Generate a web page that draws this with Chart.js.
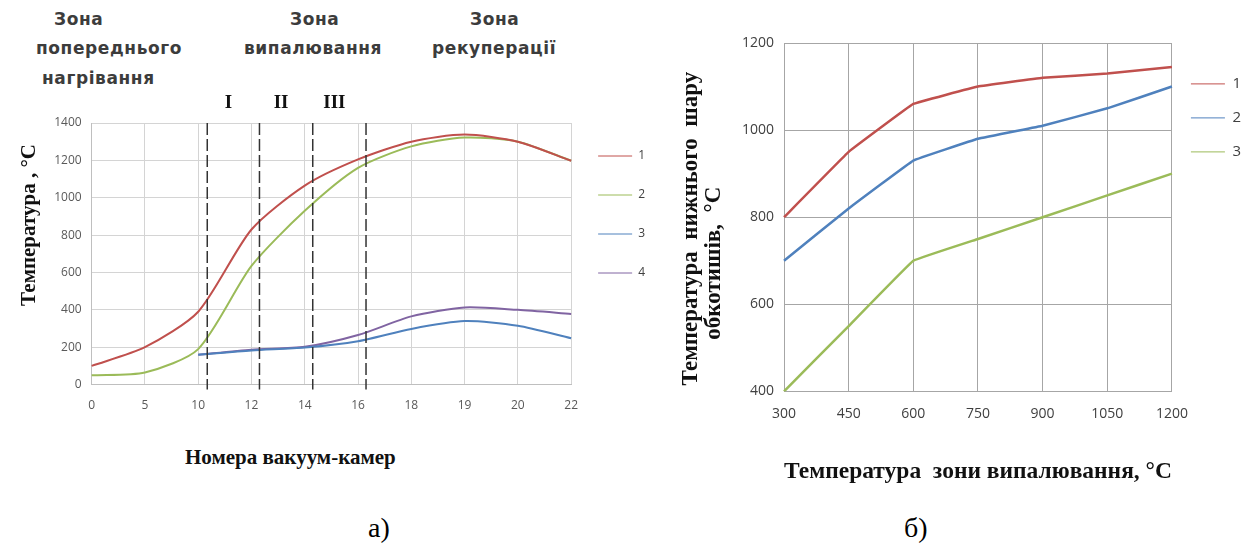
<!DOCTYPE html>
<html>
<head>
<meta charset="utf-8">
<script src="https://cdn.jsdelivr.net/npm/chart.js@4"></script>
<style>
  body { margin: 0; background: #fff; width: 1251px; height: 552px; position: relative; overflow: hidden; }
  .box { position: absolute; }
  .zone { position: absolute; font-family: "DejaVu Sans", sans-serif; font-weight: bold; font-size: 17px; letter-spacing: 0.6px; color: #3c3c3c; white-space: nowrap; }
  .cap { position: absolute; font-family: "Liberation Serif", serif; font-size: 28px; color: #000; }
  .axt { position: absolute; font-family: "Liberation Serif", serif; font-weight: bold; font-size: 21px; color: #111; white-space: nowrap; }
</style>
</head>
<body>
<div class="zone" style="left:54px; top:9px;">Зона</div>
<div class="zone" style="left:36px; top:38px;">попереднього</div>
<div class="zone" style="left:42px; top:68px;">нагрівання</div>
<div class="zone" style="left:290px; top:9px;">Зона</div>
<div class="zone" style="left:244px; top:38px;">випалювання</div>
<div class="zone" style="left:470px; top:9px;">Зона</div>
<div class="zone" style="left:432px; top:38px;">рекуперації</div>

<div class="box" style="left:0; top:90px; width:655px; height:337px;"><canvas id="chartA"></canvas></div>
<div class="axt" style="left:185px; top:445px;">Номера вакуум-камер</div>
<div class="box" style="left:660px; top:20px; width:591px; height:470px;"><canvas id="chartB"></canvas></div>

<div class="cap" style="left:368px; top:512px;">а)</div>
<div class="cap" style="left:904px; top:512px;">б)</div>

<script>
// chart a) - temperatures along the vacuum chambers
const chamberLabels = ['0', '5', '10', '12', '14', '16', '18', '19', '20', '22'];
const gasTemp1 = [100, 200, 390, 830, 1065, 1205, 1300, 1338, 1300, 1198];
const gasTemp2 = [50, 65, 190, 635, 930, 1160, 1275, 1322, 1300, 1198];
const pelletTemp3 = [null, null, 160, 183, 198, 232, 298, 340, 315, 248];
const pelletTemp4 = [null, null, 160, 187, 202, 265, 365, 413, 400, 378];
// dashed borders of burning sub-zones, as fractional category index
const zoneBorders = [2.17, 3.15, 4.15, 5.15];
const zoneNames = ['I', 'II', 'III'];

// chart б) - lower layer temperature vs burning zone temperature
const burnTemps = ['300', '450', '600', '750', '900', '1050', '1200'];
const layerTemp1 = [800, 950, 1060, 1100, 1120, 1130, 1145];
const layerTemp2 = [700, 820, 930, 980, 1010, 1050, 1100];
const layerTemp3 = [400, 550, 700, 750, 800, 850, 900];

const serifBold = { family: '"Liberation Serif", serif', weight: 'bold' };
const plainNum = (v) => String(v);
// spaces push the rotated titles off-center like in the original
const pad = (n) => ' '.repeat(n);

// dashed vertical lines + roman numbers
const zonePlugin = {
    id: 'zoneLines',
    afterDatasetsDraw(chart) {
        const { ctx, chartArea, scales } = chart;
        const xAt = (v) => {
            const i = Math.floor(v);
            const a = scales.x.getPixelForValue(i);
            const b = scales.x.getPixelForValue(i + 1);
            return a + (b - a) * (v - i);
        };
        ctx.save();
        ctx.strokeStyle = '#333';
        ctx.lineWidth = 1.5;
        ctx.setLineDash([12, 4]);
        zoneBorders.forEach(v => {
            const x = xAt(v);
            ctx.beginPath();
            ctx.moveTo(x, chartArea.top);
            ctx.lineTo(x, chartArea.bottom + 5);
            ctx.stroke();
        });
        ctx.setLineDash([]);
        ctx.fillStyle = '#111';
        ctx.font = 'bold 19px "Liberation Serif", serif';
        ctx.textAlign = 'center';
        ctx.textBaseline = 'middle';
        zoneNames.forEach((n, k) => {
            const x = (xAt(zoneBorders[k]) + xAt(zoneBorders[k + 1])) / 2 - 5;
            ctx.fillText(n, x, chartArea.top - 20);
        });
        ctx.restore();
    }
};

document.addEventListener('DOMContentLoaded', () => {

    new Chart(document.getElementById('chartA').getContext('2d'), {
        type: 'line',
        data: {
            labels: chamberLabels,
            datasets: [
                { label: '1', data: gasTemp1, borderColor: '#C0504D', backgroundColor: '#C0504D' },
                { label: '2', data: gasTemp2, borderColor: '#9BBB59', backgroundColor: '#9BBB59' },
                { label: '3', data: pelletTemp3, borderColor: '#4F81BD', backgroundColor: '#4F81BD' },
                { label: '4', data: pelletTemp4, borderColor: '#8064A2', backgroundColor: '#8064A2' }
            ]
        },
        options: {
            responsive: true,
            maintainAspectRatio: false,
            animation: false,
            elements: {
                line: { borderWidth: 2, tension: 0.25 },
                point: { radius: 0 }
            },
            layout: { padding: { top: 33, right: 0, left: 13, bottom: 0 } },
            plugins: {
                legend: {
                    position: 'right',
                    align: 'start',
                    labels: {
                        usePointStyle: true,
                        pointStyle: 'line',
                        pointStyleWidth: 34,
                        padding: 27,
                        color: '#404040',
                        font: { family: 'Open Sans', size: 12 }
                    }
                },
                tooltip: { enabled: false }
            },
            scales: {
                x: {
                    offset: false,
                    grid: { color: '#d4d4d4', tickLength: 0 },
                    border: { color: '#bfbfbf' },
                    ticks: { color: '#595959', font: { family: 'Open Sans', size: 12 }, padding: 14 }
                },
                y: {
                    min: 0,
                    max: 1400,
                    ticks: { stepSize: 200, callback: plainNum, color: '#595959', font: { family: 'Open Sans', size: 12 }, padding: 10 },
                    grid: { color: '#d4d4d4', tickLength: 0 },
                    border: { color: '#bfbfbf' },
                    title: {
                        display: true,
                        text: pad(11) + 'Температура , °C',
                        color: '#111',
                        font: { ...serifBold, size: 21 },
                        padding: { bottom: 2 }
                    }
                }
            }
        },
        plugins: [zonePlugin]
    });

    new Chart(document.getElementById('chartB').getContext('2d'), {
        type: 'line',
        data: {
            labels: burnTemps,
            datasets: [
                { label: '1', data: layerTemp1, borderColor: '#C0504D', backgroundColor: '#C0504D' },
                { label: '2', data: layerTemp2, borderColor: '#4F81BD', backgroundColor: '#4F81BD' },
                { label: '3', data: layerTemp3, borderColor: '#9BBB59', backgroundColor: '#9BBB59' }
            ]
        },
        options: {
            responsive: true,
            maintainAspectRatio: false,
            animation: false,
            elements: {
                line: { borderWidth: 2.5, tension: 0.05 },
                point: { radius: 0 }
            },
            layout: { padding: { top: 23, right: 0, left: 16 } },
            plugins: {
                legend: {
                    position: 'right',
                    align: 'start',
                    title: { display: true, text: ' ', padding: { top: 0, bottom: 0 } },
                    labels: {
                        usePointStyle: true,
                        pointStyle: 'line',
                        pointStyleWidth: 34,
                        padding: 19,
                        color: '#404040',
                        font: { family: 'Open Sans', size: 15 }
                    }
                },
                tooltip: { enabled: false }
            },
            scales: {
                x: {
                    offset: false,
                    grid: { color: '#a6a6a6', tickLength: 0 },
                    border: { color: '#a6a6a6' },
                    ticks: { color: '#404040', font: { family: 'Open Sans', size: 14 }, padding: 14 },
                    title: {
                        display: true,
                        text: 'Температура  зони випалювання, °C',
                        color: '#111',
                        font: { ...serifBold, size: 24 },
                        padding: { top: 21 }
                    }
                },
                y: {
                    min: 400,
                    max: 1200,
                    ticks: { stepSize: 200, callback: plainNum, color: '#404040', font: { family: 'Open Sans', size: 14 }, padding: 10 },
                    grid: { color: '#a6a6a6', tickLength: 0 },
                    border: { color: '#a6a6a6' },
                    title: {
                        display: true,
                        text: ['Температура  нижнього  шару' + pad(4), 'обкотишів,  °C' + pad(16)],
                        color: '#111',
                        font: { ...serifBold, size: 23, lineHeight: 1.0 },
                        padding: { bottom: 6 }
                    }
                }
            }
        }
    });

});
</script>
</body>
</html>
